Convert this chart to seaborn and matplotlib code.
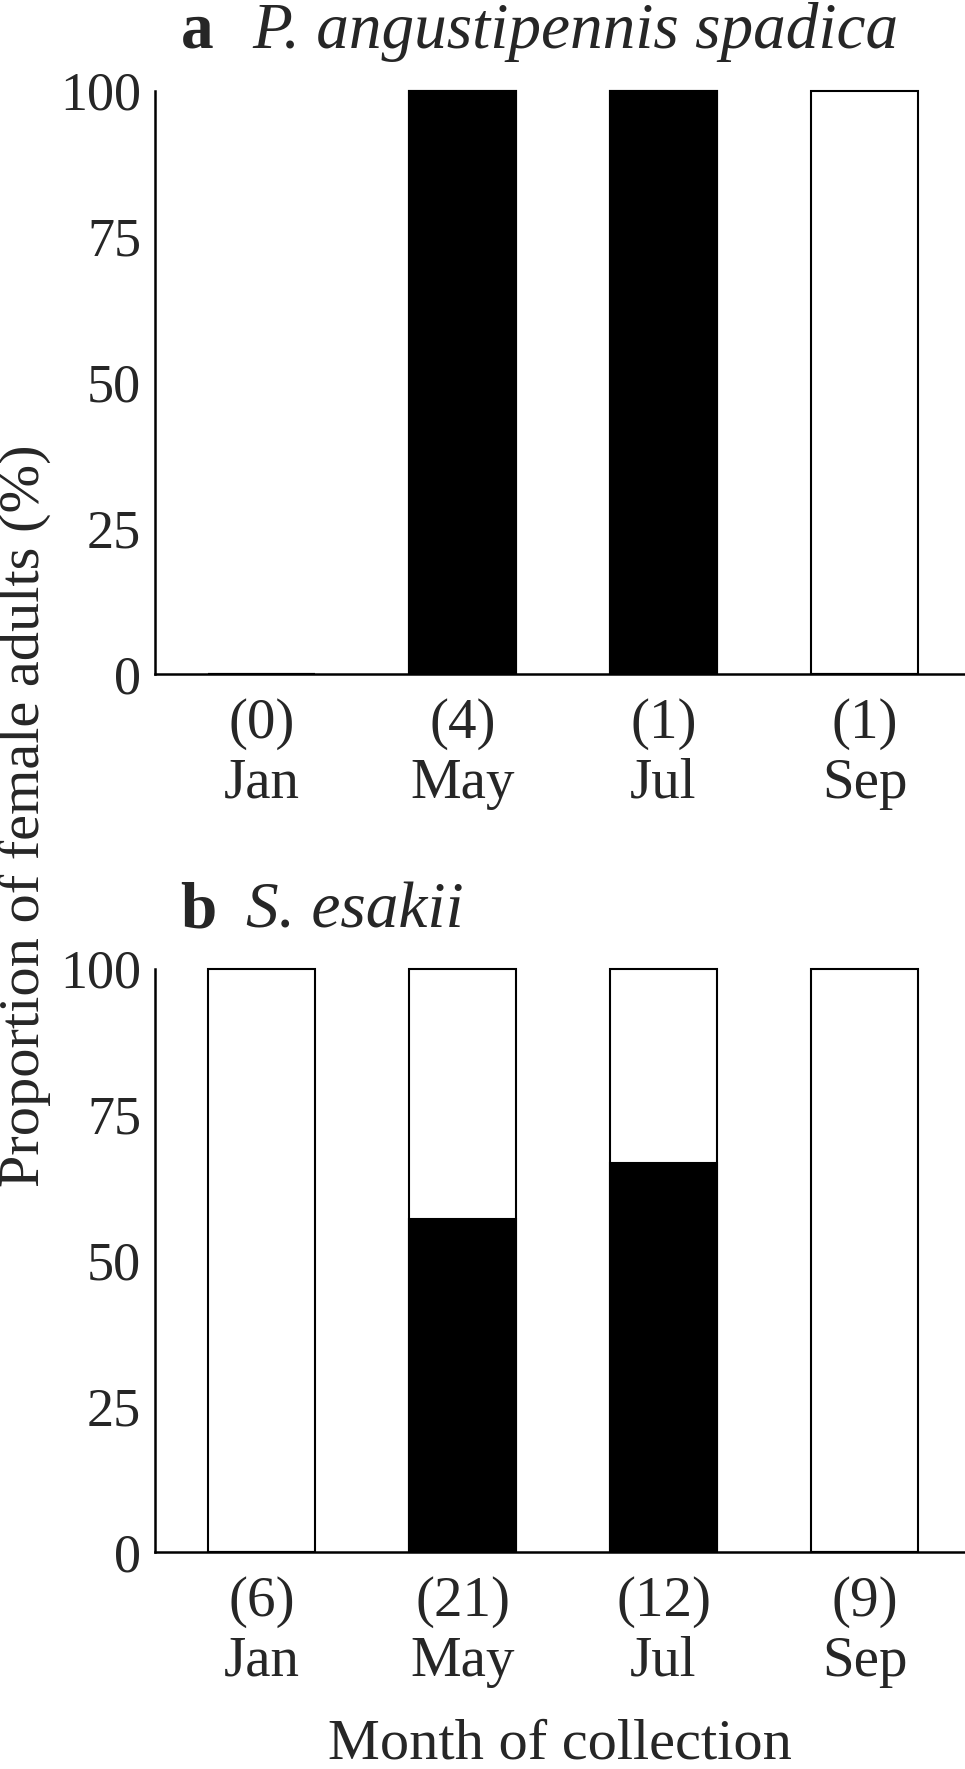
import numpy as np
import pandas as pd
import matplotlib
matplotlib.use('Agg')
import matplotlib.pyplot as plt
import seaborn as sns

## DATA
months = ['Jan', 'May', 'Jul', 'Sep']
n_a = [0, 4, 1, 1]
total_a = [0, 100, 100, 100]
female_a = [0, 100, 100, 0]
n_b = [6, 21, 12, 9]
total_b = [100, 100, 100, 100]
female_b = [0, 57.1, 66.7, 0]

sns.set_style('white')
plt.rcParams['font.family'] = ['Liberation Serif', 'DejaVu Serif']
plt.rcParams['font.size'] = 41

fig = plt.figure(figsize=(9.65, 17.69), dpi=100)

# axes positions in figure fraction (left, bottom, width, height)
ax_a = fig.add_axes([0.1606, 0.619, 0.8394, 0.333])
ax_b = fig.add_axes([0.1606, 0.1227, 0.8394, 0.333])


def draw_panel(ax, n, total, female):
    labels = [f'({k})\n{m}' for k, m in zip(n, months)]
    df = pd.DataFrame({'label': labels, 'total': total, 'female': female})
    sns.barplot(data=df, x='label', y='total', color='white', edgecolor='black',
                linewidth=1.5, width=0.53, saturation=1, ax=ax)
    sns.barplot(data=df, x='label', y='female', color='black', edgecolor='black',
                linewidth=1.5, width=0.53, saturation=1, ax=ax)
    ax.set_xlim(-0.53, 3.5)
    ax.set_ylim(0, 101)
    ax.set_yticks([0, 25, 50, 75, 100])
    ax.set_xlabel('')
    ax.set_ylabel('')
    sns.despine(ax=ax)
    ax.spines['left'].set_bounds(0, 100)
    for s in ['left', 'bottom']:
        ax.spines[s].set_linewidth(1.8)
        ax.spines[s].set_color('black')
    ax.tick_params(axis='y', length=8, width=1.5, color='black', pad=2, labelsize=39)
    ax.tick_params(axis='x', length=0, pad=17, labelsize=41)
    for t in ax.get_xticklabels():
        t.set_linespacing(1.2)


draw_panel(ax_a, n_a, total_a, female_a)
draw_panel(ax_b, n_b, total_b, female_b)

# panel titles
fig.text(0.187, 0.982, 'a', fontsize=47, fontweight='bold', va='center', ha='left')
fig.text(0.262, 0.982, 'P. angustipennis spadica', fontsize=47, style='italic',
         va='center', ha='left')
fig.text(0.187, 0.4845, 'b', fontsize=47, fontweight='bold', va='center', ha='left')
fig.text(0.255, 0.4845, 'S. esakii', fontsize=47, style='italic', va='center', ha='left')

fig.text(0.026, 0.539, 'Proportion of female adults (%)', rotation=90,
         fontsize=42, va='center', ha='center')
fig.text(0.58, 0.014, 'Month of collection', fontsize=42, va='center', ha='center')

fig.savefig('out.png', dpi=100, facecolor='white')
